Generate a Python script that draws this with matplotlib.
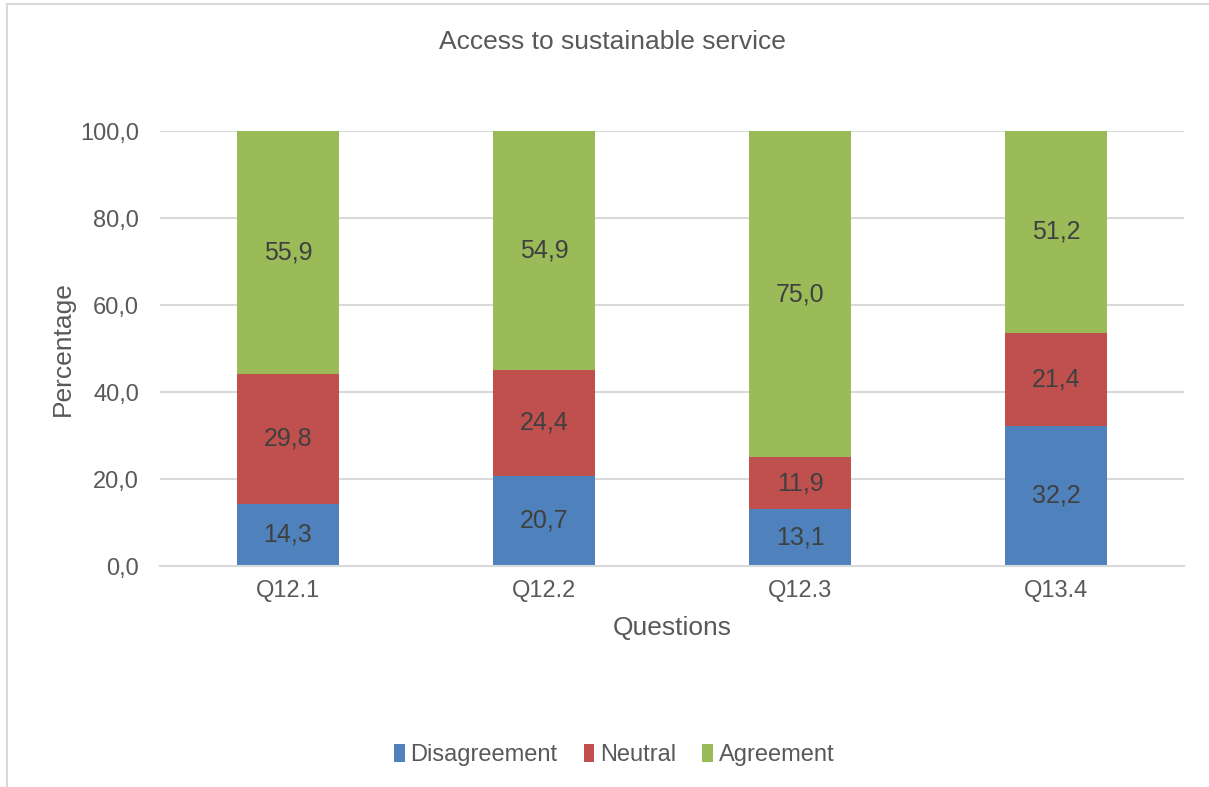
import matplotlib.pyplot as plt
from matplotlib.lines import Line2D

# data
questions = ["Q12.1", "Q12.2", "Q12.3", "Q13.4"]
disagreement = [14.3, 20.7, 13.1, 32.2]
neutral = [29.8, 24.4, 11.9, 21.4]
agreement = [55.9, 54.9, 75.0, 51.2]
yticks = [0, 20, 40, 60, 80, 100]

plt.rcParams['font.family'] = ['Liberation Sans', 'DejaVu Sans']
txt = '#595959'

fig = plt.figure(figsize=(12.09, 7.87), dpi=100)
ax = fig.add_axes([0.1323, 0.2808, 0.847, 0.5527])

x = range(len(questions))
w = 0.395
b1 = ax.bar(x, disagreement, w, color='#4F81BD', label='Disagreement')
bottom2 = disagreement
b2 = ax.bar(x, neutral, w, bottom=bottom2, color='#C0504D', label='Neutral')
bottom3 = [d + n for d, n in zip(disagreement, neutral)]
b3 = ax.bar(x, agreement, w, bottom=bottom3, color='#9BBB59', label='Agreement')

for bars, vals in [(b1, disagreement), (b2, neutral), (b3, agreement)]:
    ax.bar_label(bars, labels=[f"{v:.1f}".replace('.', ',') for v in vals],
                 label_type='center', fontsize=18, color='#404040')

ax.set_xlim(-0.5, 3.5)
ax.set_ylim(0, 100)
ax.set_yticks(yticks)
ax.set_yticklabels([f"{v:.1f}".replace('.', ',') for v in yticks])
ax.set_xticks(list(x))
ax.set_xticklabels(questions)
ax.tick_params(length=0, labelsize=17, labelcolor=txt, pad=10)
ax.tick_params(axis='y', pad=15)
ax.yaxis.grid(True, color='#D9D9D9', linewidth=1.5)
ax.set_axisbelow(True)
for s in ['top', 'right', 'left']:
    ax.spines[s].set_visible(False)
ax.spines['bottom'].set_color('#D9D9D9')
ax.spines['bottom'].set_linewidth(1.5)

ax.set_xlabel('Questions', fontsize=19, color=txt, labelpad=10)
ax.set_ylabel('Percentage', fontsize=19, color=txt, labelpad=4)

fig.text(0.5065, 0.9466, 'Access to sustainable service', ha='center', va='center',
         fontsize=19, color=txt)

fig.legend(loc='center', bbox_to_anchor=(0.508, 0.0407), ncol=3, frameon=False,
           fontsize=17, labelcolor=txt, handlelength=0.45, handleheight=0.8,
           handletextpad=0.25, columnspacing=1.1)

# chart frame: only left and top edges fall inside the image
fig.add_artist(Line2D([0.0058, 0.0058], [0, 0.9949], transform=fig.transFigure,
                      color='#D9D9D9', linewidth=1.5))
fig.add_artist(Line2D([0.0058, 1], [0.9949, 0.9949], transform=fig.transFigure,
                      color='#D9D9D9', linewidth=1.5))

fig.savefig('out.png', dpi=100)
